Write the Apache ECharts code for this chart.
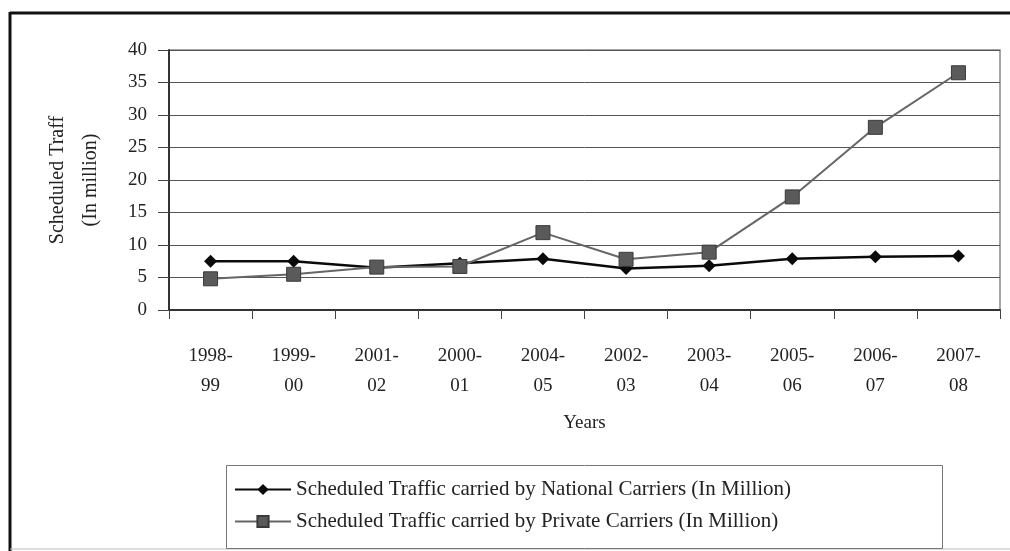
<!DOCTYPE html>
<html>
<head>
<meta charset="utf-8">
<script src="https://cdn.jsdelivr.net/npm/echarts@6/dist/echarts.min.js"></script>
<style>
  html, body { margin: 0; padding: 0; background: #fff; }
  #chart { width: 1010px; height: 551px; }
</style>
</head>
<body>
<div id="chart"></div>
<script>
// Fiscal years, in the order they are plotted
const years = ['1998-\n99', '1999-\n00', '2001-\n02', '2000-\n01', '2004-\n05', '2002-\n03', '2003-\n04', '2005-\n06', '2006-\n07', '2007-\n08'];

// Scheduled traffic (million passengers)
const nationalCarriers = [7.5, 7.5, 6.5, 7.2, 7.9, 6.4, 6.8, 7.9, 8.2, 8.3];
const privateCarriers = [4.8, 5.5, 6.6, 6.7, 11.9, 7.8, 8.9, 17.4, 28.1, 36.5];

const seriesNames = [
  'Scheduled Traffic carried by National Carriers (In Million)',
  'Scheduled Traffic carried by Private Carriers (In Million)'
];

const serif = "'Liberation Serif', 'DejaVu Serif', serif";

const chart = echarts.init(document.getElementById('chart'), null, { renderer: 'canvas' });

chart.setOption({
  backgroundColor: '#fff',
  animation: false,
  textStyle: { fontFamily: serif, color: '#222' },
  graphic: [
    // outer frame
    { type: 'line', shape: { x1: 10, y1: 13, x2: 1010, y2: 13 }, style: { stroke: '#111', lineWidth: 3 } },
    { type: 'line', shape: { x1: 10, y1: 12, x2: 10, y2: 551 }, style: { stroke: '#111', lineWidth: 3 } },
    { type: 'line', shape: { x1: 10, y1: 549, x2: 1010, y2: 549 }, style: { stroke: '#bbb', lineWidth: 1 } },
    // legend frame
    { type: 'rect', shape: { x: 226.5, y: 465.5, width: 716, height: 83 }, style: { fill: 'none', stroke: '#777', lineWidth: 1 }, z: 1 }
  ],
  grid: {
    left: 169, top: 50, right: 10, bottom: 241,
    show: true, borderColor: '#888', borderWidth: 1.5
  },
  legend: {
    orient: 'vertical',
    left: 234, top: 479,
    padding: 0,
    itemWidth: 56, itemHeight: 14, itemGap: 11,
    data: seriesNames,
    textStyle: { fontFamily: serif, fontSize: 21, color: '#222' }
  },
  xAxis: {
    type: 'category',
    data: years,
    boundaryGap: true,
    name: 'Years',
    nameLocation: 'middle',
    nameGap: 104,
    nameTextStyle: { fontFamily: serif, fontSize: 19, color: '#222', verticalAlign: 'top' },
    axisLine: { lineStyle: { color: '#333', width: 2 } },
    axisTick: { show: true, length: 9, lineStyle: { color: '#444', width: 1 } },
    axisLabel: {
      interval: 0, margin: 31, fontSize: 19, lineHeight: 30,
      fontFamily: serif, color: '#222'
    },
    splitLine: { show: false }
  },
  yAxis: {
    type: 'value',
    min: 0, max: 40, interval: 5,
    name: 'Scheduled Traff\n(In million)',
    nameLocation: 'middle',
    nameGap: 62,
    nameRotate: 90,
    nameTextStyle: { fontFamily: serif, fontSize: 20, color: '#222', lineHeight: 33 },
    axisLine: { show: true, lineStyle: { color: '#333', width: 2 } },
    axisTick: { show: true, length: 11, lineStyle: { color: '#444', width: 1 } },
    axisLabel: { margin: 22, fontSize: 19, fontFamily: serif, color: '#222' },
    splitLine: { show: true, lineStyle: { color: '#555', width: 1 } }
  },
  series: [
    {
      name: seriesNames[0],
      type: 'line',
      data: nationalCarriers,
      symbol: 'diamond',
      symbolSize: 13,
      z: 3,
      itemStyle: { color: '#0a0a0a' },
      lineStyle: { color: '#0a0a0a', width: 2.5 }
    },
    {
      name: seriesNames[1],
      type: 'line',
      data: privateCarriers,
      symbol: 'rect',
      symbolSize: 14,
      z: 4,
      itemStyle: { color: '#5a5a5a', borderColor: '#3a3a3a', borderWidth: 1 },
      lineStyle: { color: '#666', width: 2 }
    }
  ]
});
</script>
</body>
</html>
